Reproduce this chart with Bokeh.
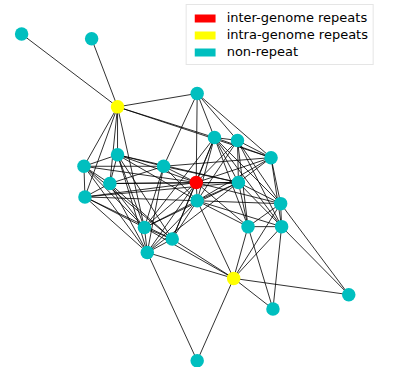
from bokeh.plotting import figure
from bokeh.models import Range1d, ColumnDataSource, Legend, LegendItem
from bokeh.embed import file_html
from bokeh.resources import INLINE

# ---- data ----
node_names = ["A", "B", "Y1", "C", "D", "E", "F", "G", "H", "I", "J", "R", "K",
              "L", "M", "N", "O", "P", "Q", "S", "T", "Y2", "U", "V", "W"]
node_x = [22, 95, 122, 205, 223, 247, 282, 122, 87, 170, 114, 204, 248,
          88, 205, 292, 150, 258, 293, 179, 153, 243, 363, 284, 205]
node_y = [35, 40, 111, 97, 143, 146, 164, 161, 173, 173, 191, 190, 190,
          205, 209, 212, 237, 236, 236, 249, 263, 290, 307, 322, 376]
node_type = ["non", "non", "intra", "non", "non", "non", "non", "non", "non", "non",
             "non", "inter", "non", "non", "non", "non", "non", "non", "non", "non",
             "non", "intra", "non", "non", "non"]

edges = [
    ("Y1", "A"), ("Y1", "B"), ("Y1", "C"), ("Y1", "D"), ("Y1", "F"), ("Y1", "G"),
    ("Y1", "H"), ("Y1", "J"), ("Y1", "L"), ("Y1", "O"),
    ("C", "D"), ("C", "E"), ("C", "F"), ("C", "I"), ("C", "R"),
    ("D", "E"), ("D", "F"), ("D", "R"), ("D", "K"), ("D", "M"), ("D", "P"),
    ("D", "N"), ("D", "Q"), ("D", "O"), ("D", "S"),
    ("E", "F"), ("E", "K"), ("E", "R"), ("E", "M"), ("E", "P"), ("E", "N"), ("E", "Q"),
    ("F", "K"), ("F", "N"), ("F", "Q"), ("F", "M"), ("F", "R"), ("F", "I"),
    ("G", "H"), ("G", "J"), ("G", "O"), ("G", "S"), ("G", "T"), ("G", "I"),
    ("G", "R"), ("G", "M"), ("G", "K"),
    ("H", "J"), ("H", "L"), ("H", "O"), ("H", "T"), ("H", "S"), ("H", "I"), ("H", "R"),
    ("I", "R"), ("I", "M"), ("I", "O"), ("I", "T"), ("I", "K"), ("I", "J"),
    ("J", "L"), ("J", "R"), ("J", "K"), ("J", "O"), ("J", "T"), ("J", "S"),
    ("R", "M"), ("R", "K"), ("R", "O"), ("R", "T"), ("R", "S"), ("R", "P"),
    ("R", "N"), ("R", "L"),
    ("K", "M"), ("K", "N"), ("K", "P"), ("K", "Q"), ("K", "O"), ("K", "T"),
    ("L", "O"), ("L", "T"), ("L", "S"), ("L", "M"), ("L", "K"),
    ("M", "O"), ("M", "T"), ("M", "S"), ("M", "P"), ("M", "Q"), ("M", "N"), ("M", "Y2"),
    ("N", "P"), ("N", "Q"), ("N", "Y2"), ("N", "U"),
    ("P", "Q"), ("P", "Y2"), ("P", "V"),
    ("Q", "Y2"), ("Q", "V"), ("Q", "U"),
    ("O", "S"), ("O", "T"), ("O", "Y2"),
    ("S", "T"), ("S", "Y2"),
    ("T", "Y2"), ("T", "W"),
    ("Y2", "U"), ("Y2", "V"), ("Y2", "W"),
]

legend_labels = ["inter-genome repeats", "intra-genome repeats", "non-repeat"]
type_keys = ["inter", "intra", "non"]
type_colors = {"inter": "#ff0000", "intra": "#ffff00", "non": "#00bfbf"}

# ---- plot ----
W, H = 378, 367
p = figure(width=W, height=H, output_backend="svg", toolbar_location=None,
           x_range=Range1d(0, 394), y_range=Range1d(383, 0),
           min_border=0)
p.axis.visible = False
p.grid.visible = False
p.outline_line_color = None
p.background_fill_color = "white"
p.border_fill_color = "white"

idx = {n: i for i, n in enumerate(node_names)}
xs = [[node_x[idx[a]], node_x[idx[b]]] for a, b in edges]
ys = [[node_y[idx[a]], node_y[idx[b]]] for a, b in edges]
p.multi_line(xs=xs, ys=ys, line_color="black", line_width=0.9, line_alpha=0.9)

src = ColumnDataSource(dict(x=node_x, y=node_y,
                            c=[type_colors[t] for t in node_type]))
p.scatter("x", "y", source=src, size=13.5, fill_color="c", line_color=None)

items = []
for lab, key in zip(legend_labels, type_keys):
    # zero-size proxy glyph: only its legend swatch is visible
    r = p.rect(x=[node_x[0]], y=[node_y[0]], width=0, height=0,
               fill_color=type_colors[key], line_color=None)
    items.append(LegendItem(label=lab, renderers=[r]))

legend = Legend(items=items, location="top_right", margin=4,
                padding=5, spacing=2, glyph_width=26, glyph_height=10,
                label_height=12, label_standoff=9,
                label_text_font="DejaVu Sans", label_text_font_size="13px",
                label_text_color="black",
                border_line_color="#cccccc", border_line_width=1,
                background_fill_color="white", background_fill_alpha=0.8)
p.add_layout(legend)

open("out.html", "w").write(file_html(p, INLINE))
